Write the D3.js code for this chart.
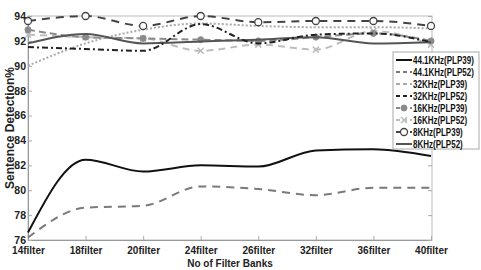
<!DOCTYPE html>
<html>
<head>
<meta charset="utf-8">
<script src="https://cdn.jsdelivr.net/npm/d3@7"></script>
<style>
  body { margin: 0; background: #fff; }
  svg { display: block; font-family: "Liberation Sans", Arial, sans-serif; }
</style>
</head>
<body>
<svg id="chart" width="481" height="270"></svg>
<script>
// filter bank counts on the x axis
const filters = ['14filter', '18filter', '20filter', '24filter', '26filter', '32filter', '36filter', '40filter']
const yTicks = [76, 78, 80, 82, 84, 86, 88, 90, 92, 94]

// sentence detection % per sampling rate / PLP order
const khz441Plp39 = [76.6, 82.45, 81.5, 82.0, 81.9, 83.2, 83.3, 82.75]
const khz441Plp52 = [76.2, 78.6, 78.75, 80.3, 80.1, 79.6, 80.2, 80.2]
const khz32Plp39 = [90.0, 91.8, 92.9, 93.4, 93.2, 93.1, 93.1, 93.0]
const khz32Plp52 = [91.5, 91.35, 91.2, 93.35, 91.8, 92.5, 92.6, 91.9]
const khz16Plp39 = [92.9, 92.3, 92.2, 92.1, 92.0, 92.3, 92.6, 92.0]
const khz16Plp52 = [92.5, 92.3, 92.2, 91.2, 91.7, 91.3, 92.8, 91.7]
const khz8Plp39 = [93.6, 94.0, 93.2, 94.0, 93.5, 93.6, 93.6, 93.2]
const khz8Plp52 = [91.8, 92.55, 91.8, 91.95, 92.1, 92.3, 91.8, 91.9]

const series = [
  {name: '44.1KHz(PLP39)', values: khz441Plp39, color: '#111', dash: null, marker: null},
  {name: '44.1KHz(PLP52)', values: khz441Plp52, color: '#7a7a7a', dash: '8,6', marker: null},
  {name: '32KHz(PLP39)', values: khz32Plp39, color: '#aaa', dash: '2,2', marker: null},
  {name: '32KHz(PLP52)', values: khz32Plp52, color: '#222', dash: '6,3,2,3', marker: null},
  {name: '16KHz(PLP39)', values: khz16Plp39, color: '#8a8a8a', dash: '7,4', marker: 'dot'},
  {name: '16KHz(PLP52)', values: khz16Plp52, color: '#bdbdbd', dash: '7,5', marker: 'x'},
  {name: '8KHz(PLP39)', values: khz8Plp39, color: '#444', dash: '8,6', marker: 'ring'},
  {name: '8KHz(PLP52)', values: khz8Plp52, color: '#555', dash: null, marker: null}
]

const svg = d3.select('#chart')
const plotL = 28, plotR = 431, plotT = 16, plotB = 240

const x = d3.scalePoint().domain(filters).range([plotL, plotR])
const y = d3.scaleLinear().domain([76, 94]).range([plotB, plotT])

// frame: box lines in light gray
svg.append('rect')
  .attr('x', plotL).attr('y', plotT)
  .attr('width', plotR + 1 - plotL).attr('height', plotB - plotT)
  .attr('fill', 'none').attr('stroke', '#bbb').attr('stroke-width', 1)

const axisText = g => g.selectAll('text')
  .attr('fill', '#222').style('font-size', '10px').style('font-weight', 'bold')

svg.append('g').attr('transform', `translate(0,${plotB})`)
  .call(d3.axisBottom(x).tickSize(-4).tickPadding(7))
  .call(g => g.select('.domain').attr('stroke', '#999'))
  .call(g => g.selectAll('.tick line').attr('stroke', '#aaa'))
  .call(axisText)

svg.append('g').attr('transform', `translate(${plotL},0)`)
  .call(d3.axisLeft(y).tickValues(yTicks).tickSize(-4).tickPadding(2))
  .call(g => g.select('.domain').attr('stroke', '#999'))
  .call(g => g.selectAll('.tick line').attr('stroke', '#aaa'))
  .call(axisText)
  .call(g => g.selectAll('text').style('font-size', '10.5px'))

svg.append('g').attr('transform', `translate(${plotR + 1},0)`)
  .call(d3.axisRight(y).tickValues(yTicks).tickSize(-4).tickFormat(''))
  .call(g => g.select('.domain').remove())
  .call(g => g.selectAll('.tick line').attr('stroke', '#aaa'))

svg.append('text')
  .attr('x', 230).attr('y', 267)
  .attr('text-anchor', 'middle')
  .attr('fill', '#222').style('font-size', '10px').style('font-weight', 'bold')
  .text('No of Filter Banks')

svg.append('text')
  .attr('transform', 'translate(14,128) rotate(-90)')
  .attr('text-anchor', 'middle')
  .attr('fill', '#222').style('font-size', '12px').style('font-weight', 'bold')
  .text('Sentence Detection%')

const line = d3.line()
  .x((d, i) => x(filters[i]))
  .y(d => y(d))
  .curve(d3.curveMonotoneX)

// draw back to front so the dark lines sit on top
const order = [2, 5, 4, 7, 3, 6, 1, 0]
order.forEach(k => {
  const s = series[k]
  const g = svg.append('g')
  g.append('path')
    .attr('d', line(s.values))
    .attr('fill', 'none')
    .attr('stroke', s.color)
    .attr('stroke-width', 2)
    .attr('stroke-dasharray', s.dash)
  drawMarkers(g, s, s.values.map((v, i) => [x(filters[i]), y(v)]))
})

function drawMarkers (g, s, pts) {
  if (s.marker === 'dot') {
    g.selectAll('circle').data(pts).join('circle')
      .attr('cx', d => d[0]).attr('cy', d => d[1]).attr('r', 3)
      .attr('fill', s.color).attr('stroke', s.color)
  } else if (s.marker === 'ring') {
    g.selectAll('circle').data(pts).join('circle')
      .attr('cx', d => d[0]).attr('cy', d => d[1]).attr('r', 3.5)
      .attr('fill', '#fff').attr('stroke', s.color).attr('stroke-width', 1.3)
  } else if (s.marker === 'x') {
    g.selectAll('path.mk').data(pts).join('path').attr('class', 'mk')
      .attr('d', d => `M${d[0] - 3},${d[1] - 3}L${d[0] + 3},${d[1] + 3}M${d[0] - 3},${d[1] + 3}L${d[0] + 3},${d[1] - 3}`)
      .attr('stroke', s.color).attr('stroke-width', 1.5)
  }
}

// legend
const lg = svg.append('g').attr('transform', 'translate(393,52)')
lg.append('rect').attr('width', 86).attr('height', 97)
  .attr('fill', '#fff').attr('stroke', '#aaa')
series.forEach((s, i) => {
  const ly = 8 + i * 12
  const row = lg.append('g')
  row.append('line')
    .attr('x1', 3).attr('x2', 19).attr('y1', ly).attr('y2', ly)
    .attr('stroke', s.color).attr('stroke-width', 2)
    .attr('stroke-dasharray', s.dash ? '4,3' : null)
  drawMarkers(row, s, [[11, ly]])
  // labels are narrow in the original, squeeze them horizontally
  row.append('text')
    .attr('transform', `translate(20,${ly}) scale(0.8,1)`)
    .attr('dy', '0.35em')
    .attr('fill', '#111').style('font-size', '10px').style('font-weight', 'bold')
    .text(s.name)
})
</script>
</body>
</html>
